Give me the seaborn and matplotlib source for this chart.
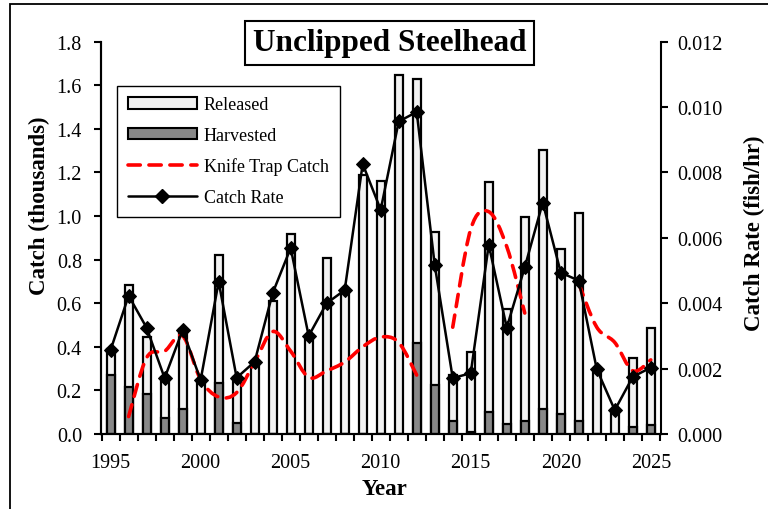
import numpy as np
import matplotlib
matplotlib.use("Agg")
import matplotlib.pyplot as plt
import seaborn as sns
from matplotlib.path import Path
from matplotlib.patches import PathPatch, Patch, Rectangle
from matplotlib.lines import Line2D
from matplotlib.ticker import FormatStrFormatter

# data
years = list(range(1995, 2026))
released = [0.12, 0.47, 0.263, 0.187, 0.367, 0.25, 0.587, 0.211, 0.33, 0.608,
            0.919, 0.45, 0.807, 0.66, 1.19, 1.163, 1.649, 1.214, 0.705, 0.209,
            0.368, 1.051, 0.526, 0.934, 1.189, 0.757, 0.954, 0.29, 0.11, 0.314, 0.447]
harvested = [0.27, 0.214, 0.184, 0.073, 0.113, 0.0, 0.235, 0.049, 0.0, 0.0,
             0.0, 0.0, 0.0, 0.0, 0.0, 0.0, 0.0, 0.417, 0.224, 0.061,
             0.01, 0.103, 0.047, 0.061, 0.116, 0.091, 0.06, 0.0, 0.0, 0.034, 0.041]
knife_trap = [None, 0.08, 0.35, 0.38, 0.45, 0.25, 0.17, 0.19, 0.33, 0.47,
              0.38, 0.26, 0.29, 0.33, 0.40, 0.445, 0.42, 0.27, None, 0.49,
              0.94, 1.02, 0.86, 0.555, None, None, 0.69, 0.49, 0.42, 0.29, 0.34]
catch_rate = [0.00257, 0.00423, 0.00325, 0.00171, 0.00318, 0.00165, 0.00466, 0.00172,
              0.00221, 0.00431, 0.00569, 0.0030, 0.0040, 0.0044, 0.00826, 0.00686,
              0.00956, 0.00985, 0.00517, 0.00171, 0.00186, 0.00579, 0.00325, 0.0051,
              0.00708, 0.00494, 0.00469, 0.00198, 0.00073, 0.00175, 0.00203]

total = [r + h for r, h in zip(released, harvested)]

sns.set_style("ticks")
plt.rcParams['font.family'] = ['Liberation Serif', 'DejaVu Serif']
plt.rcParams['text.color'] = 'black'
plt.rcParams['axes.labelcolor'] = 'black'
plt.rcParams['xtick.color'] = 'black'
plt.rcParams['ytick.color'] = 'black'

fig = plt.figure(figsize=(7.68, 5.10), dpi=100)
ax = fig.add_subplot(111)
fig.subplots_adjust(left=100.7 / 768, right=660.7 / 768, bottom=1 - 435 / 510, top=1 - 42.7 / 510)

# stacked bars: full height in light grey, harvested part over it
sns.barplot(x=years, y=total, native_scale=True, width=0.45, color='#f2f2f2',
            saturation=1, edgecolor='black', linewidth=1.6, errorbar=None, ax=ax)
sns.barplot(x=years, y=harvested, native_scale=True, width=0.45, color='#888888',
            saturation=1, edgecolor='black', linewidth=1.6, errorbar=None, ax=ax)


def smooth_path(xs, ys):
    # excel-like smoothed line through the points
    verts = [(xs[0], ys[0])]
    codes = [Path.MOVETO]
    n = len(xs)
    for i in range(n - 1):
        a, b = max(i - 1, 0), min(i + 2, n - 1)
        c1 = (xs[i] + (xs[i + 1] - xs[a]) / 6, ys[i] + (ys[i + 1] - ys[a]) / 6)
        c2 = (xs[i + 1] - (xs[b] - xs[i]) / 6, ys[i + 1] - (ys[b] - ys[i]) / 6)
        verts += [c1, c2, (xs[i + 1], ys[i + 1])]
        codes += [Path.CURVE4] * 3
    return Path(verts, codes)


dash = (0, (3.4, 2.4))
run_x, run_y = [], []
for yr, v in list(zip(years, knife_trap)) + [(None, None)]:
    if v is None:
        if len(run_x) > 1:
            pp = PathPatch(smooth_path(run_x, run_y), fill=False, edgecolor='red',
                           lw=2.6, linestyle=dash, capstyle='round', zorder=5)
            ax.add_patch(pp)
        run_x, run_y = [], []
    else:
        run_x.append(yr)
        run_y.append(v)

ax2 = ax.twinx()
sns.lineplot(x=years, y=catch_rate, ax=ax2, color='black', lw=1.8, marker='D',
             markersize=7.5, markeredgecolor='black', markerfacecolor='black')

ax.set_xlim(1994.45, 2025.55)
ax.set_ylim(0, 1.8)
ax2.set_ylim(0, 0.012)
ax.set_yticks(np.arange(0, 1.81, 0.2))
ax2.set_yticks(np.arange(0, 0.0121, 0.002))
ax.yaxis.set_major_formatter(FormatStrFormatter('%.1f'))
ax2.yaxis.set_major_formatter(FormatStrFormatter('%.3f'))

ax.set_xticks(np.arange(1994.5, 2026, 1.0))
ax.set_xticklabels([])
ax.set_xticks(range(1995, 2026, 5), minor=True)
ax.set_xticklabels([str(y) for y in range(1995, 2026, 5)], minor=True)
ax.tick_params(axis='x', which='major', direction='out', length=5, width=1.5)
ax.tick_params(axis='x', which='minor', length=0, labelsize=14.5, pad=13.5)
ax.tick_params(axis='y', direction='out', length=5, width=1.5, labelsize=14.5, pad=8.5)
ax2.tick_params(axis='y', direction='out', length=5, width=1.5, labelsize=14.5, pad=7)

for a in (ax, ax2):
    a.spines['top'].set_visible(False)
    for s in ('left', 'right', 'bottom'):
        a.spines[s].set_linewidth(1.5)
        a.spines[s].set_color('black')
ax.spines['right'].set_visible(False)

ax.set_xlabel('Year', fontsize=16.5, fontweight='bold')
ax.set_ylabel('Catch (thousands)', fontsize=16.5, fontweight='bold')
ax2.set_ylabel('Catch Rate (fish/hr)', fontsize=16.5, fontweight='bold')
ax.xaxis.set_label_coords(0.506, -0.112)
ax.yaxis.set_label_coords(-0.091, 0.584)
ax2.yaxis.set_label_coords(1.149, 0.514)

handles = [
    Patch(facecolor='#f2f2f2', edgecolor='black', lw=1.5),
    Patch(facecolor='#888888', edgecolor='black', lw=1.5),
    Line2D([], [], color='red', lw=2.6, linestyle=dash, dash_capstyle='round'),
    Line2D([], [], color='black', lw=1.8, marker='D', markersize=7.5),
]
labels = ['Released', 'Harvested', 'Knife Trap Catch', 'Catch Rate']
leg = ax2.legend(handles, labels, loc='upper left', bbox_to_anchor=(0.0296, 0.888),
                 borderaxespad=0, fontsize=13, fancybox=False, framealpha=1,
                 edgecolor='black', handlelength=3.8, handleheight=0.6,
                 labelspacing=0.75, borderpad=0.6, handletextpad=0.4)
leg.get_frame().set_linewidth(1.0)

fig.text(389.5 / 768, 1 - 43.85 / 510, 'Unclipped Steelhead', fontsize=22.5,
         fontweight='bold', ha='center', va='center', zorder=10,
         bbox=dict(boxstyle='square,pad=0.25', facecolor='white', edgecolor='black', lw=1.5))

# outer chart frame, partly cropped like the original
fig.add_artist(Rectangle((10 / 768, -0.5), 2.0, 1.5 - 5 / 510, transform=fig.transFigure,
                         fill=False, edgecolor='black', lw=1.3))

fig.savefig('out.png', dpi=100)
